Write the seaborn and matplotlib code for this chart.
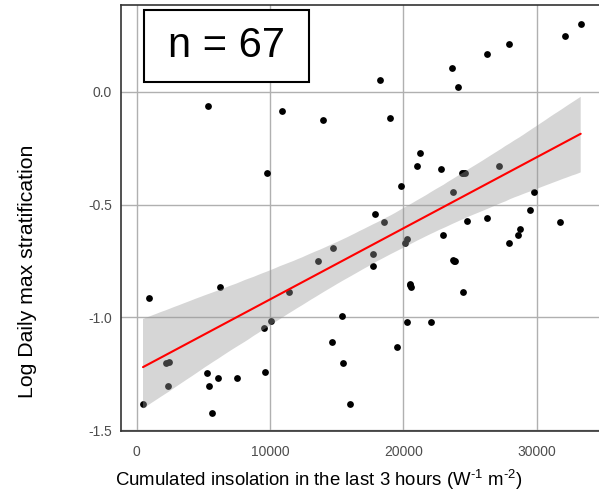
import matplotlib
matplotlib.use("Agg")
import matplotlib.pyplot as plt
import seaborn as sns
import numpy as np
import pandas as pd
from matplotlib.patches import Rectangle

# ---- data ----
insolation = [
    5348, 10920, 13950, 9750, 18248, 19020, 23625, 24120, 26250, 27945,
    32145, 33300, 21270, 21000, 22823, 19823, 27173, 24375, 24623, 23723,
    29775, 17850, 18525, 24795, 26273, 29498, 28725, 31748, 22950, 28598,
    27945, 17745, 17745, 20123, 20295, 23723, 23873, 20475, 20595, 24495,
    20295, 22050, 19523, 16000, 945, 6225, 14745, 13598, 11423, 9548,
    10050, 15420, 14625, 15495, 2198, 2445, 2325, 473, 5250, 5445,
    6120, 7500, 9645, 5670, 24500, 20530, 23800,
]
log_strat = [
    -0.065, -0.087, -0.127, -0.358, 0.052, -0.116, 0.104, 0.022, 0.167, 0.212,
    0.248, 0.300, -0.273, -0.329, -0.341, -0.416, -0.329, -0.358, -0.358, -0.445,
    -0.445, -0.542, -0.577, -0.572, -0.560, -0.525, -0.609, -0.577, -0.635, -0.635,
    -0.671, -0.717, -0.770, -0.671, -0.652, -0.745, -0.752, -0.852, -0.865, -0.889,
    -1.022, -1.022, -1.131, -1.385, -0.913, -0.865, -0.693, -0.750, -0.889, -1.046,
    -1.016, -0.994, -1.109, -1.202, -1.202, -1.196, -1.305, -1.385, -1.248, -1.305,
    -1.270, -1.270, -1.242, -1.425, -0.360, -0.858, -0.748,
]
x_ticks = [0, 10000, 20000, 30000]
x_ticklabels = ["0", "10000", "20000", "30000"]
y_ticks = [-1.5, -1.0, -0.5, 0.0]
y_ticklabels = ["-1.5", "-1.0", "-0.5", "0.0"]
n_label = "n = 67"

df = pd.DataFrame({"insolation": insolation, "log_strat": log_strat})

sns.set_style("white")
plt.rcParams["font.family"] = ["Liberation Sans", "DejaVu Sans"]
plt.rcParams["axes.unicode_minus"] = False
plt.rcParams["mathtext.fontset"] = "custom"
plt.rcParams["mathtext.rm"] = "Liberation Sans"
plt.rcParams["mathtext.it"] = "Liberation Sans"
plt.rcParams["mathtext.default"] = "regular"

W, H = 599, 495
fig = plt.figure(figsize=(W / 100, H / 100), dpi=100)
ax = fig.add_axes([121 / W, (H - 431) / H, (W - 121) / W, 426 / H])

sns.regplot(
    data=df, x="insolation", y="log_strat", ax=ax, ci=95, n_boot=5000, seed=11,
    color="black",
    scatter_kws={"s": 24, "alpha": 1, "linewidths": 0, "zorder": 1},
    line_kws={"color": "#FF0000", "linewidth": 1.5, "zorder": 3},
)
# ggplot-like grey confidence ribbon on top of the points
for coll in ax.collections[1:]:
    coll.set_facecolor("#999999")
    coll.set_alpha(0.4)
    coll.set_edgecolor("none")

ax.set_xlim((121 - 136.7) * 75, (W - 136.7) * 75)
ax.set_ylim(-1.503, 0.384)
ax.set_xticks(x_ticks)
ax.set_xticklabels(x_ticklabels)
ax.set_yticks(y_ticks)
ax.set_yticklabels(y_ticklabels)

ax.grid(True, color="#b0b0b0", linewidth=1.0)
ax.set_axisbelow(True)
for side in ["left", "top", "bottom"]:
    ax.spines[side].set_color("#333333")
    ax.spines[side].set_linewidth(1.2)
ax.spines["right"].set_visible(False)

ax.tick_params(axis="both", which="major", direction="out", length=5, width=1,
               color="#333333", labelcolor="#4D4D4D", labelsize=10)
ax.tick_params(axis="x", pad=5)
ax.tick_params(axis="y", pad=1.5)

ax.set_xlabel(r"Cumulated insolation in the last 3 hours (W$^{\text{-1}}$ m$^{\text{-2}}$)",
              fontsize=13.4, color="black")
ax.set_ylabel("Log Daily max stratification", fontsize=15.3, color="black")
ax.xaxis.set_label_coords((318.5 - 121) / 478, (431 - 468) / 426)
ax.yaxis.set_label_coords((37 - 121) / 478, (431 - 271.5) / 426)

# n = 67 box
bx0, by0, bw, bh = (144 - 121) / 478, (431 - 82) / 426, 165 / 478, 72 / 426
ax.add_patch(Rectangle((bx0, by0), bw, bh, transform=ax.transAxes,
                       facecolor="white", edgecolor="black", linewidth=1.5,
                       zorder=5, clip_on=False))
ax.text(bx0 + bw / 2, by0 + bh / 2, n_label, transform=ax.transAxes,
        ha="center", va="center", fontsize=30, color="black", zorder=6)

fig.savefig("out.png", dpi=100, facecolor="white")
